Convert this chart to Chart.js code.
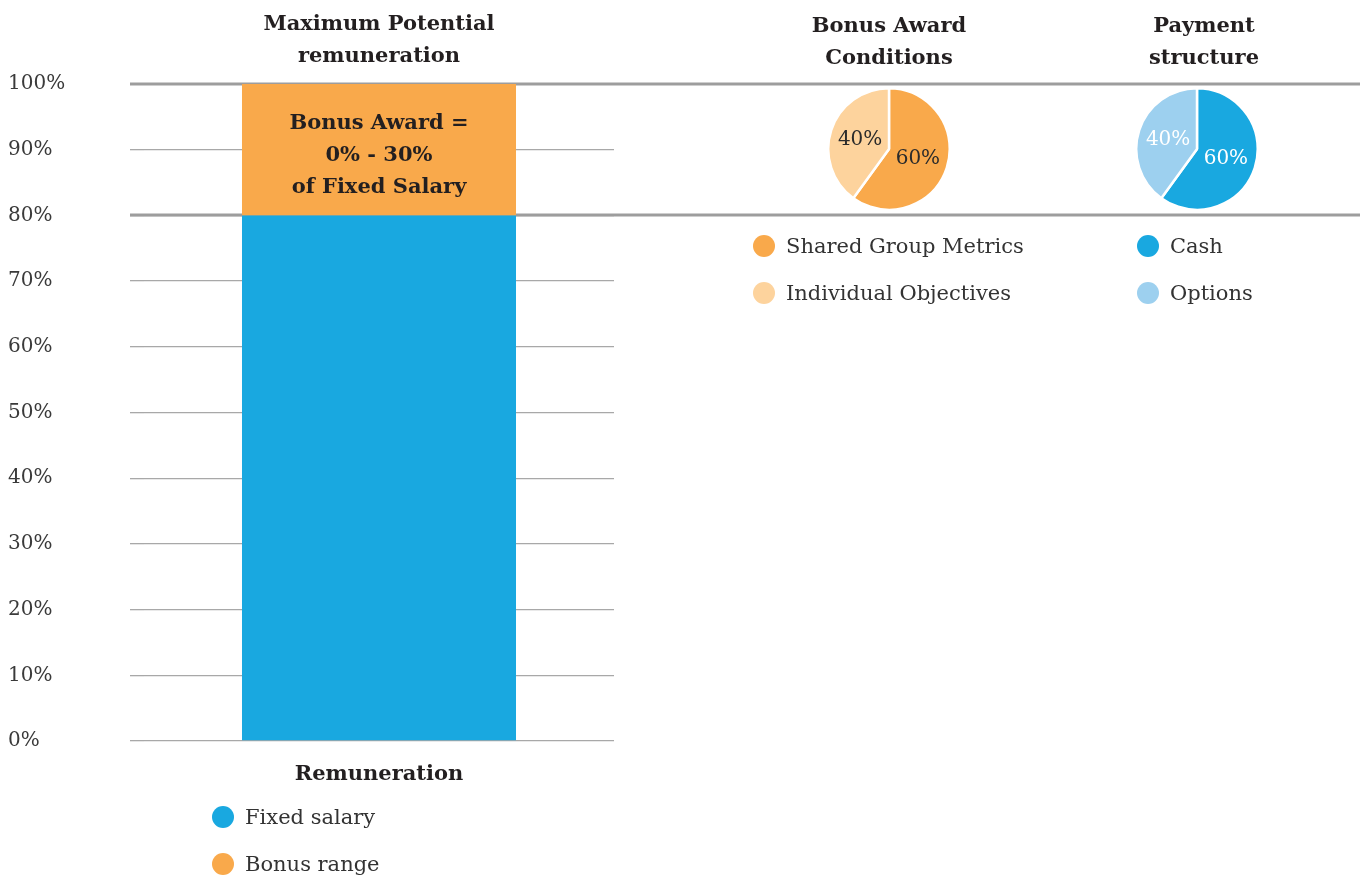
<!DOCTYPE html>
<html><head><meta charset="utf-8">
<script src="https://cdn.jsdelivr.net/npm/chart.js@4.4.0/dist/chart.umd.min.js"></script>
<style>
html,body{margin:0;padding:0;background:#fff;width:1360px;height:876px;overflow:hidden;}
#wrap{position:relative;width:1360px;height:876px;font-family:'DejaVu Serif',serif;}
canvas{position:absolute;}
.ttl{position:absolute;width:300px;text-align:center;font-weight:bold;font-size:21px;line-height:32px;color:#231f20;}
.leg{position:absolute;display:flex;align-items:center;height:24px;font-size:21px;color:#333;white-space:nowrap;}
.leg .dot{display:inline-block;width:22px;height:22px;border-radius:50%;margin-right:11px;}
</style></head>
<body><div id="wrap">
<canvas id="bar" width="1360" height="876" style="left:0;top:0"></canvas>
<canvas id="pie1" width="124" height="124" style="left:827px;top:87px"></canvas>
<canvas id="pie2" width="124" height="124" style="left:1135px;top:87px"></canvas>
<div class="ttl" style="left:739px;top:9px">Bonus Award<br>Conditions</div>
<div class="ttl" style="left:1054px;top:9px">Payment<br>structure</div>
</div>
<script>
// ---- data ----
const barCategories = ['Remuneration'];
const barSeriesNames = ['Fixed salary', 'Bonus range'];
const fixedSalary = [80];
const bonusRange = [20];
const bonusLabelLines = ['Bonus Award =', '0% - 30%', 'of Fixed Salary'];
const conditionsLabels = ['Shared Group Metrics', 'Individual Objectives'];
const conditionsValues = [60, 40];
const paymentLabels = ['Cash', 'Options'];
const paymentValues = [60, 40];

// ---- styles ----
const BLUE = '#19a8e0', ORANGE = '#f9a94b', LIGHT_ORANGE = '#fdd39d', LIGHT_BLUE = '#9dd0ef';
Chart.defaults.font.family = "'DejaVu Serif', serif";

const bandLines = {
  id: 'bandLines',
  beforeDatasetsDraw(chart) {
    const y = chart.scales.y, ctx = chart.ctx;
    const x0 = chart.chartArea.left - y.options.grid.tickLength;
    const vals = [fixedSalary[0], fixedSalary[0] + bonusRange[0]];
    ctx.save();
    ctx.strokeStyle = '#9d9d9d';
    ctx.lineWidth = 3;
    vals.forEach(v => {
      const py = Math.round(y.getPixelForValue(v));
      ctx.beginPath(); ctx.moveTo(x0, py); ctx.lineTo(chart.width, py); ctx.stroke();
    });
    ctx.restore();
  }
};

const bonusText = {
  id: 'bonusText',
  afterDatasetsDraw(chart) {
    const el = chart.getDatasetMeta(1).data[0];
    if (!el) return;
    const ctx = chart.ctx;
    const cx = el.x, cy = (el.y + el.base) / 2 + 6;
    const lh = 32;
    ctx.save();
    ctx.font = "bold 21px 'DejaVu Serif'";
    ctx.fillStyle = '#231f20';
    ctx.textAlign = 'center'; ctx.textBaseline = 'middle';
    bonusLabelLines.forEach((t, i) => {
      ctx.fillText(t, cx, cy + (i - (bonusLabelLines.length - 1) / 2) * lh);
    });
    ctx.restore();
  }
};

new Chart(document.getElementById('bar'), {
  type: 'bar',
  data: {
    labels: barCategories,
    datasets: [
      { label: barSeriesNames[0], data: fixedSalary, backgroundColor: BLUE, barPercentage: 0.583, categoryPercentage: 1 },
      { label: barSeriesNames[1], data: bonusRange, backgroundColor: ORANGE, barPercentage: 0.583, categoryPercentage: 1 }
    ]
  },
  options: {
    responsive: false, animation: false,
    layout: { padding: { left: 8, right: 746, top: 0, bottom: 89 } },
    plugins: {
      legend: { display: false }, tooltip: { enabled: false },
      title: {
        display: true, fullSize: false, text: ['Maximum Potential', 'remuneration'],
        font: { size: 21, weight: 'bold', lineHeight: 32 / 21 }, color: '#231f20',
        padding: { top: 9, bottom: 11 }
      }
    },
    scales: {
      x: {
        stacked: true,
        grid: { display: false, drawTicks: false }, border: { display: false },
        ticks: { display: false },
        title: { display: true, text: barCategories[0], font: { size: 21, weight: 'bold', lineHeight: 24 / 21 }, color: '#231f20', padding: { top: 22, bottom: 0 } }
      },
      y: {
        stacked: true, min: 0, max: 100,
        ticks: { stepSize: 10, callback: v => v + '%', crossAlign: 'far', font: { size: 20 }, color: '#3a3a3a', padding: 0 },
        grid: { color: '#a8a8a8', lineWidth: 1.3, tickLength: 14, tickColor: '#a8a8a8' },
        border: { display: false },
        afterFit: s => { s.width = 136; }
      }
    }
  },
  plugins: [bandLines, bonusText]
});

function pieLabels(color) {
  return {
    id: 'pieLabels',
    afterDatasetsDraw(chart) {
      const ctx = chart.ctx;
      const ds = chart.data.datasets[0];
      ctx.save();
      ctx.font = "20px 'DejaVu Serif'";
      ctx.fillStyle = color;
      ctx.textAlign = 'center'; ctx.textBaseline = 'middle';
      chart.getDatasetMeta(0).data.forEach((arc, i) => {
        const p = arc.tooltipPosition();
        ctx.fillText(ds.data[i] + '%', p.x, p.y);
      });
      ctx.restore();
    }
  };
}

function makePie(id, labels, values, colors, labelColor) {
  new Chart(document.getElementById(id), {
    type: 'pie',
    data: { labels: labels, datasets: [{ data: values, backgroundColor: colors, borderColor: '#fff', borderWidth: 2.5 }] },
    options: {
      responsive: false, animation: false,
      layout: { padding: 0 },
      plugins: { legend: { display: false }, tooltip: { enabled: false } }
    },
    plugins: [pieLabels(labelColor)]
  });
}
makePie('pie1', conditionsLabels, conditionsValues, [ORANGE, LIGHT_ORANGE], '#2b2b2b');
makePie('pie2', paymentLabels, paymentValues, [BLUE, LIGHT_BLUE], '#ffffff');

function makeLegend(labels, colors, dotCx, firstCy, gap) {
  const wrap = document.getElementById('wrap');
  labels.forEach((t, i) => {
    const d = document.createElement('div');
    d.className = 'leg';
    d.style.left = (dotCx - 11) + 'px';
    d.style.top = (firstCy + i * gap - 12) + 'px';
    const dot = document.createElement('span');
    dot.className = 'dot'; dot.style.background = colors[i];
    d.appendChild(dot);
    d.appendChild(document.createTextNode(t));
    wrap.appendChild(d);
  });
}
makeLegend(barSeriesNames, [BLUE, ORANGE], 223, 817, 47);
makeLegend(conditionsLabels, [ORANGE, LIGHT_ORANGE], 764, 246, 47);
makeLegend(paymentLabels, [BLUE, LIGHT_BLUE], 1148, 246, 47);
</script>
</body></html>
